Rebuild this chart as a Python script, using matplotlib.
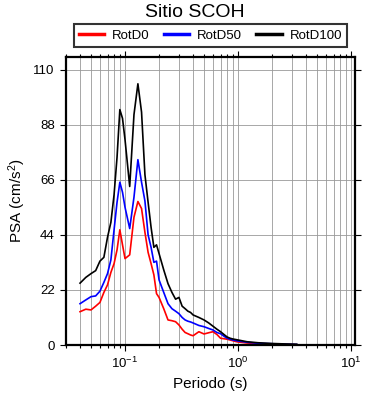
import numpy as np
import matplotlib
matplotlib.use("Agg")
import matplotlib.pyplot as plt
from matplotlib.ticker import LogLocator

plt.rcParams['font.family'] = ['Liberation Sans', 'DejaVu Sans']
plt.rcParams['mathtext.fontset'] = 'custom'
plt.rcParams['mathtext.rm'] = 'Liberation Sans'
plt.rcParams['mathtext.it'] = 'Liberation Sans'

# periods (s)
periodo = [0.04, 0.045, 0.05, 0.055, 0.06, 0.065, 0.07, 0.075, 0.08, 0.085,
           0.09, 0.095, 0.1, 0.11, 0.12, 0.13, 0.14, 0.15, 0.16, 0.17,
           0.18, 0.19, 0.2, 0.22, 0.24, 0.26, 0.28, 0.3, 0.32, 0.34,
           0.36, 0.38, 0.4, 0.45, 0.5, 0.55, 0.6, 0.65, 0.7, 0.75,
           0.8, 0.85, 0.9, 0.95, 1.0, 1.2, 1.5, 2.0, 2.7, 3.3]

# PSA (cm/s2)
rotd0 = [13.3, 14.3, 14.0, 15.5, 17.0, 21.0, 24.0, 29.0, 32.5, 38.0,
         46.0, 40.0, 34.5, 36.0, 51.0, 57.3, 54.5, 45.0, 37.0, 32.5,
         28.0, 20.5, 19.0, 14.5, 10.0, 9.7, 9.3, 8.0, 6.3, 5.0,
         4.5, 4.0, 3.7, 5.3, 4.4, 4.9, 5.3, 4.2, 2.7, 2.5,
         2.3, 2.0, 1.7, 1.4, 1.2, 0.8, 0.5, 0.3, 0.2, 0.1]
rotd50 = [16.5, 18.0, 19.3, 19.6, 21.5, 25.0, 28.5, 34.0, 46.0, 57.0,
          65.0, 61.0, 55.0, 46.5, 59.0, 74.0, 65.0, 57.5, 44.0, 39.0,
          33.0, 33.5, 26.0, 21.0, 16.5, 14.5, 13.5, 12.5, 11.0, 10.0,
          9.5, 9.2, 8.8, 7.8, 7.3, 6.6, 6.0, 5.0, 4.5, 3.5,
          2.7, 2.3, 2.0, 1.8, 1.6, 1.1, 0.7, 0.5, 0.3, 0.2]
rotd100 = [24.7, 27.0, 28.5, 29.7, 33.5, 35.0, 43.0, 49.0, 60.0, 75.0,
           94.0, 90.5, 82.0, 63.3, 92.0, 104.3, 93.0, 68.0, 57.0, 47.0,
           39.0, 40.0, 36.5, 30.0, 24.5, 21.0, 18.3, 19.0, 15.5, 14.5,
           13.5, 13.0, 12.0, 11.0, 10.0, 8.8, 7.5, 6.3, 5.3, 4.2,
           3.2, 2.7, 2.4, 2.2, 2.0, 1.3, 0.9, 0.6, 0.4, 0.3]

fig = plt.figure(figsize=(3.9, 4.0), dpi=100)
ax = fig.add_axes([0.169, 0.1375, 0.741, 0.72])

ax.plot(periodo, rotd0, color="red", lw=1.2, label="RotD0")
ax.plot(periodo, rotd50, color="blue", lw=1.2, label="RotD50")
ax.plot(periodo, rotd100, color="black", lw=1.2, label="RotD100")

ax.set_xscale("log")
ax.set_xlim(0.03, 10.8)
ax.set_ylim(0, 115)
ax.set_yticks([0, 22, 44, 66, 88, 110])
ax.xaxis.set_major_locator(LogLocator(base=10, numticks=10))
ax.xaxis.set_minor_locator(LogLocator(base=10, subs=np.arange(2, 10), numticks=20))

ax.grid(True, which="major", color="#999999", lw=0.6)
ax.grid(True, which="minor", axis="x", color="#999999", lw=0.6)
ax.set_axisbelow(True)

ax.tick_params(which="both", direction="out", top=True, right=True,
               labelsize=9.5, width=0.8)
ax.tick_params(which="major", length=4.5)
ax.tick_params(which="minor", length=2.5)
for sp in ax.spines.values():
    sp.set_linewidth(1.6)

ax.set_xlabel("Periodo (s)", fontsize=11)
ax.set_ylabel("PSA (cm/s$^2$)", fontsize=11)

fig.text(0.5, 0.968, "Sitio SCOH", ha="center", va="center", fontsize=14)
leg = ax.legend(loc="lower center", bbox_to_anchor=(0.5, 1.035), ncol=3,
                fontsize=9.5, frameon=True, fancybox=False, edgecolor="black",
                handlelength=1.9, handletextpad=0.6, columnspacing=1.1,
                borderpad=0.4, borderaxespad=0)
leg.get_frame().set_linewidth(1.5)
for h in leg.get_lines():
    h.set_linewidth(2.5)

fig.savefig("out.png", dpi=100)
